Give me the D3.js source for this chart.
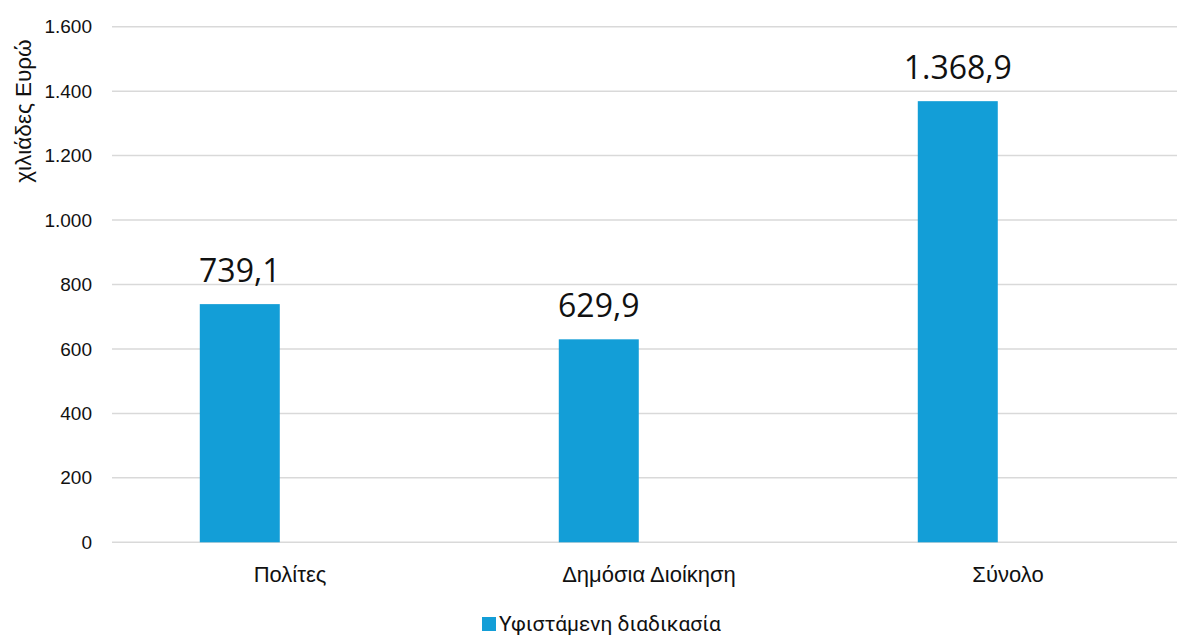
<!DOCTYPE html>
<html>
<head>
<meta charset="utf-8">
<script src="https://cdn.jsdelivr.net/npm/d3@7"></script>
<style>
  html, body { margin: 0; padding: 0; background: #fff; }
  svg { display: block; }
</style>
</head>
<body>
<svg id="chart" width="1177" height="635"></svg>
<script>
// Data
const categories = ["Πολίτες", "Δημόσια Διοίκηση", "Σύνολο"];
const values = [739.1, 629.9, 1368.9];
const seriesName = "Υφιστάμενη διαδικασία";
const yTicks = [0, 200, 400, 600, 800, 1000, 1200, 1400, 1600];
const yTitle = "χιλιάδες Ευρώ";

const W = 1177, H = 635;
const barColor = "#139ED7";
const gridColor = "#D9D9D9";

// Greek number format: "." thousands, "," decimal
const el = d3.formatLocale({ decimal: ",", thousands: ".", grouping: [3], currency: ["", " €"] });
const fmtTick = el.format(",.0f");
const fmtVal = el.format(",.1f");

const svg = d3.select("#chart");

const x = d3.scaleBand().domain(categories).range([110.5, 1187.5]).padding(0);
const xs = d3.scaleBand().domain([seriesName]).range([0, x.bandwidth()])
  .paddingInner(0).paddingOuter(1.744).align(0.32);
const y = d3.scaleLinear().domain([0, 1600]).range([542.3, 26.7]);

// Gridlines
svg.append("g")
  .selectAll("line")
  .data(yTicks)
  .join("line")
  .attr("x1", 112).attr("x2", W)
  .attr("y1", d => y(d)).attr("y2", d => y(d))
  .attr("stroke", gridColor).attr("stroke-width", 1.5);

// Y axis labels
const yAxis = d3.axisLeft(y).tickValues(yTicks).tickFormat(fmtTick).tickSize(0).tickPadding(0);
svg.append("g")
  .attr("transform", "translate(92,0)")
  .call(yAxis)
  .call(g => g.select(".domain").remove())
  .call(g => g.selectAll("text")
    .attr("font-family", "'Liberation Sans', Arial, sans-serif")
    .attr("font-size", 19)
    .attr("fill", "#111"));

// Y axis title
svg.append("text")
  .attr("transform", "translate(31,111) rotate(-90)")
  .attr("text-anchor", "middle")
  .attr("font-family", "'Liberation Sans', Arial, sans-serif")
  .attr("font-size", 22.5)
  .attr("fill", "#111")
  .text(yTitle);

// Bars
svg.append("g")
  .selectAll("rect")
  .data(categories)
  .join("rect")
  .attr("x", (d) => x(d) + xs(seriesName))
  .attr("width", xs.bandwidth())
  .attr("y", (d, i) => y(values[i]))
  .attr("height", (d, i) => y(0) - y(values[i]))
  .attr("fill", barColor);

// Value labels
svg.append("g")
  .selectAll("text")
  .data(categories)
  .join("text")
  .attr("x", d => x(d) + xs(seriesName) + xs.bandwidth() / 2)
  .attr("y", (d, i) => y(values[i]) - 22)
  .attr("text-anchor", "middle")
  .attr("font-family", "'Open Sans', sans-serif")
  .attr("font-size", 32)
  .attr("fill", "#111")
  .text((d, i) => fmtVal(values[i]));

// Category labels
const xAxis = d3.axisBottom(x).tickSize(0).tickPadding(0);
svg.append("g")
  .attr("transform", "translate(0,566)")
  .call(xAxis)
  .call(g => g.select(".domain").remove())
  .call(g => g.selectAll("text")
    .attr("dy", "0.71em")
    .attr("font-family", "'Liberation Sans', Arial, sans-serif")
    .attr("font-size", 22)
    .attr("fill", "#111"));

// Legend
const legend = svg.append("g").attr("transform", "translate(482,617)");
legend.append("rect").attr("width", 14).attr("height", 14).attr("fill", barColor);
legend.append("text")
  .attr("x", 17).attr("y", 14)
  .attr("font-family", "Roboto, sans-serif")
  .attr("font-size", 21)
  .attr("fill", "#111")
  .text(seriesName);
</script>
</body>
</html>
